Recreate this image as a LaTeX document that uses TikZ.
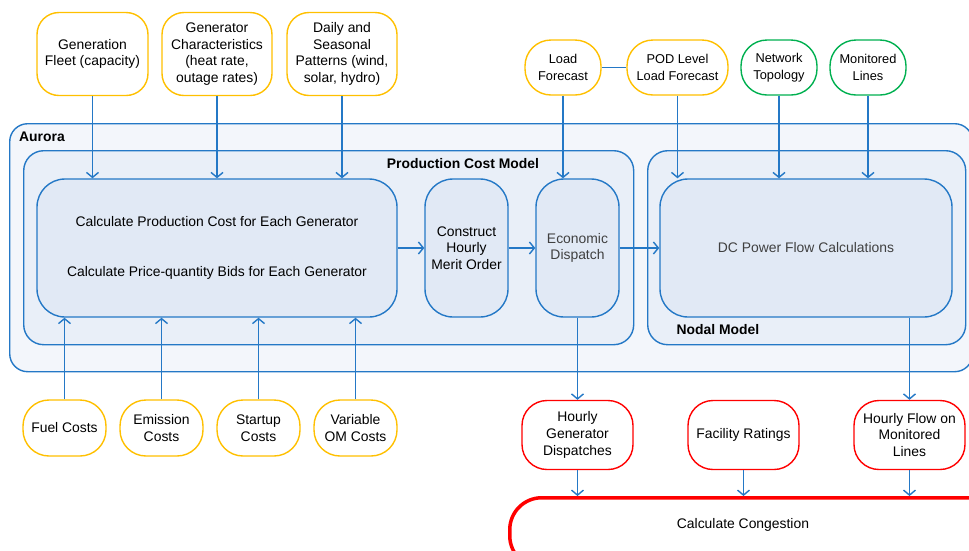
\documentclass[tikz,border=0pt]{standalone}
\usepackage{fontspec}
\setmainfont{Liberation Sans}
\usetikzlibrary{positioning,arrows.meta}
\definecolor{linkblue}{RGB}{36,120,198}
\definecolor{inyellow}{RGB}{255,192,0}
\definecolor{ingreen}{RGB}{0,176,80}
\definecolor{outred}{RGB}{255,0,0}
\definecolor{aurorafill}{RGB}{243,246,251}
\definecolor{modelfill}{RGB}{233,239,248}
\definecolor{stagefill}{RGB}{225,233,245}
\definecolor{softtext}{RGB}{64,64,64}

\begin{document}
\begin{tikzpicture}[x=1pt,y=-1pt,on grid,
        font=\fontsize{13.9}{16.7}\selectfont,
        >={Straight Barb[length=5pt,width=12pt]},
        box/.style = {draw,line width=1.4pt,fill=white,align=center,inner sep=1pt},
        topsrc/.style = {box,draw=inyellow,rounded corners=22pt,minimum width=110pt,minimum height=83pt},
        pill/.style = {box,draw=inyellow,rounded corners=26pt,minimum width=76pt,minimum height=55pt,font=\fontsize{12.8}{17}\selectfont},
        net/.style = {pill,draw=ingreen},
        cost/.style = {box,draw=inyellow,rounded corners=26pt,minimum width=83pt,minimum height=56pt},
        res/.style = {box,draw=outred,rounded corners=25pt,minimum width=111pt,minimum height=69pt},
        frame/.style = {draw=linkblue,line width=1.4pt,anchor=north west,inner sep=0pt},
        stage/.style = {draw=linkblue,line width=1.4pt,fill=stagefill,rounded corners=28pt,align=center,minimum height=138pt,inner sep=1pt},
        lbl/.style = {font=\fontsize{13.9}{16.7}\selectfont\bfseries,inner sep=0pt},
        arr/.style = {->,draw=linkblue,line width=1.4pt}]
    \useasboundingbox (0,0) rectangle (969,550);
    \clip (0,0) rectangle (969,550);

    \node[frame,fill=aurorafill,rounded corners=18pt,minimum width=963pt,minimum height=248pt] (aurora) at (9,123) {};
    \node[frame,fill=modelfill,rounded corners=20pt,minimum width=610pt,minimum height=194pt] (pcm) at (23,150) {};
    \node[frame,fill=modelfill,rounded corners=20pt,minimum width=318pt,minimum height=194pt] (nodal) at (647,150) {};
    \node[lbl,anchor=west] (auroralbl) at (19,137) {Aurora};
    \node[lbl] (pcmlbl) at (463,164) {Production Cost Model};
    \node[lbl] (nodallbl) at (718,330) {Nodal Model};

    \node[topsrc,minimum width=111pt] (fleet) at (92.5,54) {Generation\\Fleet (capacity)};
    \node[topsrc] (genchar) [right=124.5pt of fleet] {Generator\\Characteristics\\(heat rate,\\outage rates)};
    \node[topsrc] (pattern) [right=125pt of genchar] {Daily and\\Seasonal\\Patterns (wind,\\solar, hydro)};

    \node[pill] (loadfc) at (563,67.5) {Load\\Forecast};
    \node[pill,minimum width=101pt] (podfc) [right=114.5pt of loadfc] {POD Level\\Load Forecast};
    \node[net] (topo) [right=101.5pt of podfc] {Network\\Topology};
    \node[net] (monlines) [right=89pt of topo] {Monitored\\Lines};

    \node[stage,minimum width=360pt] (calc) at (217,248) {Calculate Production Cost for Each Generator\\[33.3pt]Calculate Price-quantity Bids for Each Generator};
    \node[stage,minimum width=83pt] (merit) [right=249.5pt of calc] {Construct\\Hourly\\Merit Order};
    \node[stage,minimum width=83pt,text=softtext] (econ) [right=111pt of merit] {Economic\\Dispatch};
    \node[stage,minimum width=292pt,text=softtext] (dcflow) [right=228.5pt of econ] {DC Power Flow Calculations};

    \node[cost] (fuel) at (64.5,428) {Fuel Costs};
    \node[cost] (emis) [right=97pt of fuel] {Emission\\Costs};
    \node[cost] (startup) [right=97pt of emis] {Startup\\Costs};
    \node[cost] (varom) [right=97pt of startup] {Variable\\OM Costs};

    \node[res] (hgd) at (577.5,435) {Hourly\\Generator\\Dispatches};
    \node[res] (facrat) [right=166pt of hgd] {Facility Ratings};
    \node[res] (hflow) [right=166pt of facrat] {Hourly Flow on\\Monitored\\Lines};

    \node[box,draw=outred,line width=3.5pt,rounded corners=32pt,minimum width=490pt,minimum height=70pt,anchor=north west] (congest) at (508,496) {};
    \node (congestlbl) at (743,525) {Calculate Congestion};

    \path[arr]
    (fleet) edge (fleet |- calc.north)
    (genchar) edge (genchar |- calc.north)
    (pattern) edge (pattern |- calc.north)
    (fuel) edge (fuel |- calc.south)
    (emis) edge (emis |- calc.south)
    (startup) edge (startup |- calc.south)
    (varom) edge (varom |- calc.south)
    (loadfc) edge[-] (podfc)
    (loadfc) edge (loadfc |- econ.north)
    (podfc) edge (podfc |- dcflow.north)
    (topo) edge (topo |- dcflow.north)
    (monlines) edge (monlines |- dcflow.north)
    (calc) edge (merit)
    (merit) edge (econ)
    (econ) edge (dcflow)
    (econ) edge (hgd)
    (hgd) edge (hgd |- congest.north)
    (facrat) edge (facrat |- congest.north)
    (hflow) edge (hflow |- congest.north)
    ;
    \draw[arr] (dcflow.south -| hflow.north) -- (hflow.north);
\end{tikzpicture}
\end{document}
